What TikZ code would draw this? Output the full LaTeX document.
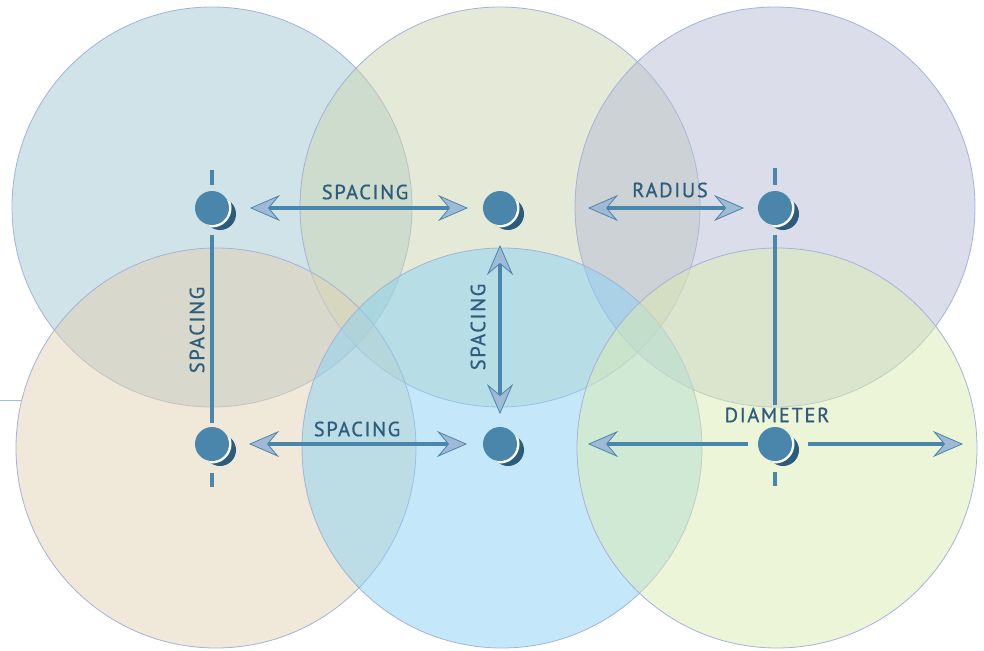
\documentclass[tikz,border=0pt]{standalone}
\usepackage{fontspec}
\usepackage{xcolor}
\usepackage{tikz}
\usetikzlibrary{
    arrows.meta,
    positioning
}
\newfontfamily\labelfont{PT Sans}[LetterSpace=8,FakeBold=0.7]

\definecolor{ringline}{RGB}{165,178,218}
\definecolor{tlfill}{RGB}{159,199,209}
\definecolor{tmfill}{RGB}{203,213,177}
\definecolor{trfill}{RGB}{183,187,213}
\definecolor{blfill}{RGB}{225,209,177}
\definecolor{bmfill}{RGB}{137,209,245}
\definecolor{brfill}{RGB}{219,235,177}
\definecolor{hubblue}{RGB}{74,134,172}
\definecolor{hubshade}{RGB}{44,92,124}
\definecolor{tipfill}{RGB}{160,185,215}
\definecolor{labelblue}{RGB}{46,92,124}
\definecolor{strayline}{RGB}{160,190,225}

\tikzset{zone/.style={
    circle,
    draw=ringline,
    line width=0.8pt,
    fill opacity=0.5,
    minimum size=400pt,
    inner sep=0pt,
    outer sep=0pt,
}}
\tikzset{hub/.style={
    circle,
    fill=hubblue,
    minimum size=34pt,
    inner sep=0pt,
    outer sep=0pt,
}}
\tikzset{stem/.style={
    draw=hubblue,
    line width=4.5pt,
}}
\tikzset{bigtip/.tip={
    Stealth[length=30pt,width=26pt,inset=11pt,fill=tipfill,line width'=0.8pt]
}}
\tikzset{measure/.style={
    stem,
    bigtip-bigtip,
}}
\tikzset{halfmeasure/.style={
    stem,
    -bigtip,
}}
\tikzset{label/.style={
    font=\labelfont\fontsize{20.5}{20.5}\selectfont,
    text=labelblue,
    inner sep=0pt,
}}

% hub with its shadow: name, x, y
\newcommand{\hubdot}[3]{
    \fill[hubshade] (#2+8,#3+6) circle (16pt);
    \begin{scope}
        \clip (#2+8,#3+6) circle (16pt);
        \fill[white] (#2,#3) circle (19.5pt);
    \end{scope}
    \node[hub] (#1) at (#2,#3) {};
}

\begin{document}
\begin{tikzpicture}[x=1pt,y=-1pt]
    \useasboundingbox (0,0) rectangle (984,650);

    % coverage circles
    \node[zone, fill=tlfill] (zoneTL) at (212,207) {};
    \node[zone, fill=tmfill] (zoneTM) at (500,207) {};
    \node[zone, fill=trfill] (zoneTR) at (775,207) {};
    \node[zone, fill=blfill] (zoneBL) at (216,448) {};
    \node[zone, fill=bmfill] (zoneBM) at (502,448) {};
    \node[zone, fill=brfill] (zoneBR) at (777,448) {};

    \coordinate (edge) at (0,400);
    \coordinate (edgeEnd) at (21,400);
    \draw[strayline, line width=0.8pt] (edge) -- (edgeEnd);

    % hubs
    \hubdot{hubA}{212}{208}
    \hubdot{hubB}{500}{208}
    \hubdot{hubC}{775}{208}
    \hubdot{hubD}{212}{444}
    \hubdot{hubE}{500}{444}
    \hubdot{hubF}{775}{444}

    % ticks and stems
    \draw[stem] ([yshift=6pt]hubA.north) -- ([yshift=21pt]hubA.north);
    \draw[stem] ([yshift=6pt]hubC.north) -- ([yshift=23pt]hubC.north);
    \draw[stem] ([yshift=-12pt]hubD.south) -- ([yshift=-26pt]hubD.south);
    \draw[stem] ([yshift=-11pt]hubF.south) -- ([yshift=-25pt]hubF.south);
    \draw[stem, shorten <=10pt, shorten >=4pt] (hubA.south) -- (hubD.north);
    \draw[stem, shorten <=10pt, shorten >=22pt] (hubC.south) -- (hubF.north);

    % measures
    \coordinate (radiusEnd) at (588,208);
    \coordinate (diamLeft) at (588,444);
    \coordinate (diamRight) at (963,444);
    \draw[measure, shorten <=21pt, shorten >=15pt] (hubA.east) -- (hubB.west);
    \draw[measure, shorten <=20pt, shorten >=16pt] (hubD.east) -- (hubE.west);
    \draw[measure, shorten <=20pt, shorten >=13pt] (hubB.south) -- (hubE.north);
    \draw[measure, shorten >=14pt] (radiusEnd) -- (hubC.west);
    \draw[halfmeasure, shorten <=10pt] (hubF.west) -- (diamLeft);
    \draw[halfmeasure, shorten <=16pt] (hubF.east) -- (diamRight);

    % labels
    \node[label] (spacingTop) at (365,192) {SPACING};
    \node[label] (radiusLbl) at (670,190) {RADIUS};
    \node[label] (spacingBot) at (357,429) {SPACING};
    \node[label] (diamLbl) at (777,415) {DIAMETER};
    \node[label, rotate=90] (spacingLeft) at (197,330) {SPACING};
    \node[label, rotate=90] (spacingMid) at (478,327) {SPACING};
\end{tikzpicture}
\end{document}
